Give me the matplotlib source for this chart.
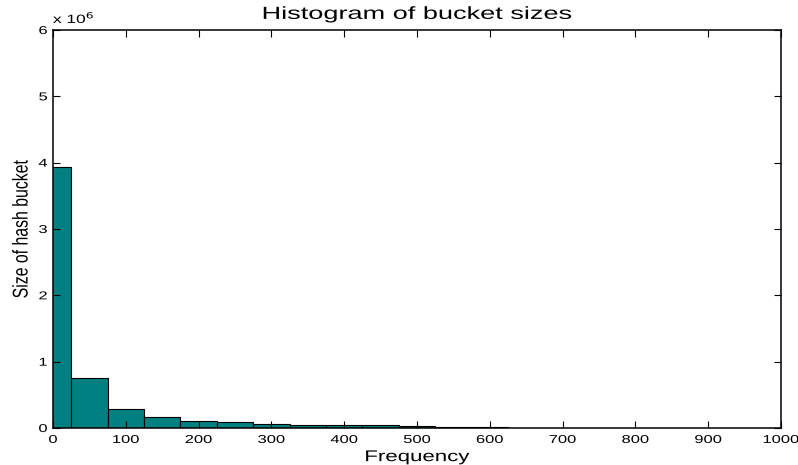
import matplotlib
matplotlib.use("Agg")
import matplotlib.pyplot as plt
from matplotlib.ticker import FuncFormatter, MultipleLocator
from matplotlib.patheffects import AbstractPathEffect
from matplotlib.transforms import Affine2D

plt.rcParams['font.family'] = ['Liberation Sans', 'DejaVu Sans']

# Histogram bins (centres) and their counts
bin_centers = [0, 50, 100, 150, 200, 250, 300, 350, 400, 450, 500, 550, 600]
bucket_counts = [3.93e6, 0.754e6, 0.28e6, 0.17e6, 0.11e6, 0.083e6, 0.06e6,
                 0.05e6, 0.04e6, 0.038e6, 0.026e6, 0.02e6, 0.015e6]
bin_width = 50


class HStretch(AbstractPathEffect):
    """Widen glyphs horizontally (in display space) about an anchor."""

    def __init__(self, sx, anchor='center'):
        super().__init__()
        self.sx = sx
        self.anchor = anchor

    def draw_path(self, renderer, gc, tpath, affine, rgbFace=None):
        bb = tpath.get_extents(affine)
        if self.anchor == 'left':
            x0 = bb.x0
        elif self.anchor == 'right':
            x0 = bb.x1
        else:
            x0 = 0.5 * (bb.x0 + bb.x1)
        t = affine + Affine2D().translate(-x0, 0).scale(self.sx, 1).translate(x0, 0)
        renderer.draw_path(gc, tpath, t, rgbFace)


fig = plt.figure(figsize=(7.98, 4.65), dpi=100)
ax = fig.add_axes([53 / 798, 1 - 428 / 465, (781 - 53) / 798, (428 - 30) / 465])

ax.bar(bin_centers, bucket_counts, width=bin_width, align='center',
       color='#008080', edgecolor='black', linewidth=0.8)

ax.set_xlim(0, 1000)
ax.set_ylim(0, 6e6)
ax.xaxis.set_major_locator(MultipleLocator(100))
ax.yaxis.set_major_locator(MultipleLocator(1e6))
ax.yaxis.set_major_formatter(FuncFormatter(lambda v, p: f"{v / 1e6:g}"))

ax.tick_params(direction='in', top=True, right=True, length=5, width=0.8,
               labelsize=8.2, pad=4)
ax.tick_params(axis='x', pad=5)
for s in ax.spines.values():
    s.set_linewidth(1.1)

offset = ax.text(0.0, 1.01, r"x 10$^{6}$", transform=ax.transAxes,
                 fontsize=8.6, ha='left', va='bottom')
offset.set_path_effects([HStretch(1.45, 'left')])

title = ax.set_title("Histogram of bucket sizes", fontsize=12.6, pad=8)
title.set_path_effects([HStretch(1.55, 'center')])
xl = ax.set_xlabel("Frequency", fontsize=11.2, labelpad=3)
xl.set_path_effects([HStretch(1.43, 'center')])
yl = ax.set_ylabel("Size of hash bucket", fontsize=11.4, labelpad=9)
yl.set_path_effects([HStretch(1.35, 'center')])

fig.canvas.draw()
for lbl in ax.get_xticklabels():
    lbl.set_path_effects([HStretch(1.45, 'center')])
for lbl in ax.get_yticklabels():
    lbl.set_path_effects([HStretch(1.45, 'right')])

fig.savefig("out.png", dpi=100)
